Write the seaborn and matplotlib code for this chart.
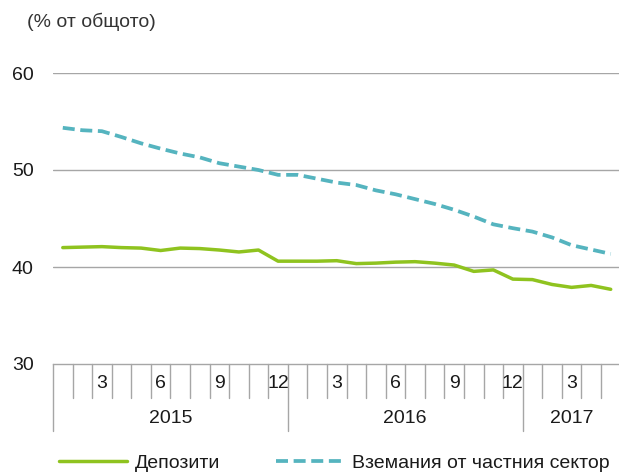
import matplotlib
matplotlib.use('Agg')
import matplotlib.pyplot as plt
import matplotlib.transforms as mtransforms
from matplotlib.lines import Line2D
import pandas as pd
import seaborn as sns

# monthly data, Jan 2015 - May 2017
years = [2015] * 12 + [2016] * 12 + [2017] * 5
months = list(range(1, 13)) * 2 + list(range(1, 6))
deposits = [42.0, 42.05, 42.1, 42.0, 41.95, 41.7, 41.95, 41.9, 41.75, 41.55, 41.75, 40.6,
            40.6, 40.6, 40.65, 40.35, 40.4, 40.5, 40.55, 40.4, 40.2, 39.55, 39.7, 38.75,
            38.7, 38.2, 37.9, 38.1, 37.7]
claims = [54.35, 54.1, 54.0, 53.4, 52.75, 52.2, 51.7, 51.3, 50.7, 50.35, 50.0, 49.5,
          49.5, 49.1, 48.7, 48.45, 47.9, 47.5, 47.0, 46.5, 45.9, 45.2, 44.4, 44.0,
          43.65, 43.05, 42.25, 41.8, 41.35]
label_deposits = 'Депозити'
label_claims = 'Вземания от частния сектор'

df = pd.DataFrame({'year': years, 'month': months,
                   'deposits': deposits, 'claims': claims})
df['pos'] = range(len(df))

sns.set_style('white')
plt.rcParams['font.family'] = ['Liberation Sans', 'DejaVu Sans']
plt.rcParams['text.color'] = '#1a1a1a'

green = '#8fc31f'
teal = '#55b4bf'
grey = '#a6a6a6'
fs = 14

fig = plt.figure(figsize=(6.19, 4.74), dpi=100)
ax = fig.add_axes([53 / 619, 1 - 364 / 474, 567.5 / 619, 291 / 474])

sns.lineplot(data=df, x='pos', y='deposits', color=green, linewidth=2.5, ax=ax)
sns.lineplot(data=df, x='pos', y='claims', color=teal, linewidth=2.7,
             linestyle=(0, (3.2, 1.5)), ax=ax)

ax.set_xlim(-0.5, len(df) - 0.5)
ax.set_ylim(30, 60)
ax.set_yticks([30, 40, 50, 60])
ax.tick_params(axis='y', length=0, pad=14, labelsize=fs, labelcolor='#1a1a1a')
ax.set_xticks([])
ax.set_xlabel('')
ax.set_ylabel('')
for s in ['left', 'right', 'top']:
    ax.spines[s].set_visible(False)
ax.spines['bottom'].set_color(grey)
ax.spines['bottom'].set_linewidth(1)
for v in [40, 50, 60]:
    ax.axhline(v, color=grey, linewidth=1, zorder=0)

# two-level category axis
trans = mtransforms.blended_transform_factory(ax.transData, ax.transAxes)
n = len(df)
for k in range(n):
    b = k - 0.5
    if k == 0 or df['year'][k] != df['year'][k - 1]:
        depth = -0.23
    else:
        depth = -0.117
    ax.plot([b, b], [0, depth], transform=trans, color=grey, linewidth=1, clip_on=False)
    if df['month'][k] % 3 == 0:
        ax.text(k, -0.068, str(df['month'][k]), transform=trans, ha='center',
                va='center', fontsize=fs)
for y, grp in df.groupby('year'):
    ax.text(grp['pos'].mean(), -0.188, str(y), transform=trans, ha='center',
            va='center', fontsize=fs)

fig.text(27 / 619, 1 - 22 / 474, '(% от общото)', ha='left', va='center',
         fontsize=fs, color='#333333')

handles = [Line2D([], [], color=green, linewidth=2.5),
           Line2D([], [], color=teal, linewidth=2.7, linestyle=(0, (3.2, 1.5)))]
fig.legend(handles, [label_deposits, label_claims], loc='center',
           bbox_to_anchor=(0.54, 1 - 463 / 474), ncol=2, frameon=False,
           fontsize=fs, handlelength=3.5, handletextpad=0.4, columnspacing=2.9)

fig.savefig('out.png', dpi=100)
